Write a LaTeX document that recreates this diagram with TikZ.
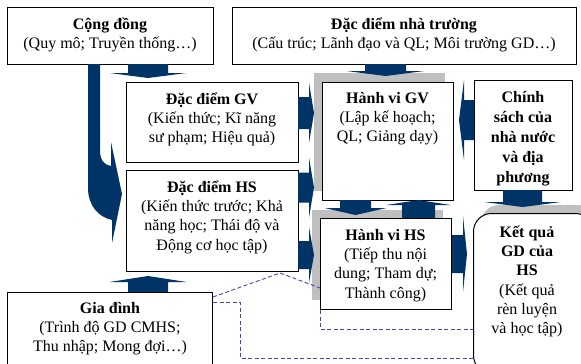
\documentclass[tikz,border=0pt]{standalone}
\usepackage{fontspec}
\setmainfont{Liberation Serif}
\definecolor{navy}{RGB}{0,51,102}
\definecolor{shadowgray}{RGB}{191,191,191}
\definecolor{dashblue}{RGB}{70,70,170}
\newcommand{\blkv}[6]{% cx, ystart, ybase, ytip, shafthalf, headhalf
  \fill[blkarrow] ({#1-#5},#2) -- ({#1+#5},#2) -- ({#1+#5},#3) -- ({#1+#6},#3) -- (#1,#4) -- ({#1-#6},#3) -- ({#1-#5},#3) -- cycle;}
\newcommand{\blkh}[6]{% cy, xstart, xbase, xtip, shafthalf, headhalf
  \fill[blkarrow] (#2,{#1-#5}) -- (#2,{#1+#5}) -- (#3,{#1+#5}) -- (#3,{#1+#6}) -- (#4,#1) -- (#3,{#1-#6}) -- (#3,{#1-#5}) -- cycle;}
\tikzset{
  blkarrow/.style={fill=navy},
  box/.style={draw=black, line width=1pt, fill=white, rectangle, inner sep=0pt, anchor=north west},
  lbl/.style={align=center, inner sep=0pt, anchor=north, font=\fontsize{16}{19.3}\selectfont},
  shadowbox/.style={fill=shadowgray},
  dashlink/.style={draw=dashblue, line width=0.9pt, dash pattern=on 4pt off 2.5pt},
}
\begin{document}
\begin{tikzpicture}[x=1pt,y=-1pt]
\useasboundingbox (0,0) rectangle (581,364);

% shadows
\fill[shadowbox] (314,73) rectangle (445,191);
\fill[shadowbox] (312,210) rectangle (443,300);
\fill[shadowbox, rounded corners=18pt] (481,205) rectangle (596,380);

\coordinate (d1) at (280,273);
\coordinate (d2) at (240,358);
\coordinate (d3) at (320,329);

% boxes
\node[box, minimum width=206pt, minimum height=57pt] (cd) at (7,7) {};
\node[box, minimum width=344pt, minimum height=57pt] (nt) at (232,7) {};
\node[box, minimum width=172pt, minimum height=80pt] (gv) at (126,82) {};
\node[box, minimum width=172pt, minimum height=101pt] (hs) at (126,170) {};
\node[box, minimum width=205pt, minimum height=80pt] (gd) at (7,292) {};
\node[box, minimum width=131pt, minimum height=118pt] (hvgv) at (322,82) {};
\node[box, minimum width=131pt, minimum height=91pt] (hvhs) at (320,218) {};
\node[box, minimum width=98pt, minimum height=110pt] (cs) at (474,80) {};
\node[box, rounded corners=18pt, minimum width=120pt, minimum height=160pt] (kq) at (473,213) {};

% dashed links
\draw[dashlink] ([yshift=-5pt]gd.north east) -- (d1) -- ([yshift=-70pt]hvhs.north west);
\draw[dashlink] ([yshift=-10pt]gd.north east) -| (d2) -- (d2 -| kq.west);
\draw[dashlink] (hvhs.south west) -- (d3) -- (d3 -| kq.west);

% labels
\node[lbl] (cdt) at (110,12) {\rule{0pt}{17pt}\textbf{Cộng đồng}\\(Quy mô; Truyền thống…)};
\node[lbl] (ntt) at (404,12) {\rule{0pt}{17pt}\textbf{Đặc điểm nhà trường}\\(Cấu trúc; Lãnh đạo và QL; Môi trường GD…)};
\node[lbl] (gvt) at (212,87) {\rule{0pt}{17pt}\textbf{Đặc điểm GV}\\(Kiến thức; Kĩ năng\\sư phạm; Hiệu quả)};
\node[lbl] (hst) at (212,175) {\rule{0pt}{17pt}\textbf{Đặc điểm HS}\\(Kiến thức trước; Khả\\năng học; Thái độ và\\Động cơ học tập)};
\node[lbl] (gdt) at (110,296) {\rule{0pt}{17pt}\textbf{Gia đình}\\(Trình độ GD CMHS;\\Thu nhập; Mong đợi…)};
\node[lbl] (hvgvt) at (387.5,86) {\rule{0pt}{17pt}\textbf{Hành vi GV}\\(Lập kế hoạch;\\QL; Giảng dạy)};
\node[lbl] (hvhst) at (385.5,223) {\rule{0pt}{17pt}\textbf{Hành vi HS}\\(Tiếp thu nội\\dung; Tham dự;\\Thành công)};
\node[lbl, font=\fontsize{16}{20}\selectfont\bfseries] (cst) at (523,85) {\rule{0pt}{17pt}Chính\\sách của\\nhà nước\\và địa\\phương};
\node[lbl] (kqt) at (527,220) {\rule{0pt}{17pt}\textbf{Kết quả}\\\textbf{GD của}\\\textbf{HS}\\(Kết quả\\rèn luyện\\và học tập)};

% block arrows
\blkv{148}{64}{73}{78}{20}{38.5}
\blkv{385.5}{64}{71}{76}{20.5}{39}
\blkv{355.5}{200}{208}{215}{15.5}{31}
\blkv{522.5}{190}{202}{207}{19.5}{38.5}
\blkv{418.5}{218}{205}{200}{16.5}{32}
\blkv{148}{292}{282}{276}{20}{38.5}
\blkh{113}{298}{309}{314}{16}{30}
\blkh{187.5}{298}{309}{314}{15}{30}
\blkh{255}{298}{309}{314}{14}{28}
\blkh{254}{452}{463}{467}{19}{38}
\blkh{120}{474}{464}{459}{20}{40}
% curved arrow from community to student characteristics
\fill[blkarrow] (88,64) -- (100,64) -- (100,150) .. controls (100,160) and (104,165) .. (111,166)
  -- (111,142) -- (122,194) -- (112,243) -- (112,220) .. controls (98,217) and (88,205) .. (88,188) -- cycle;
\end{tikzpicture}
\end{document}
